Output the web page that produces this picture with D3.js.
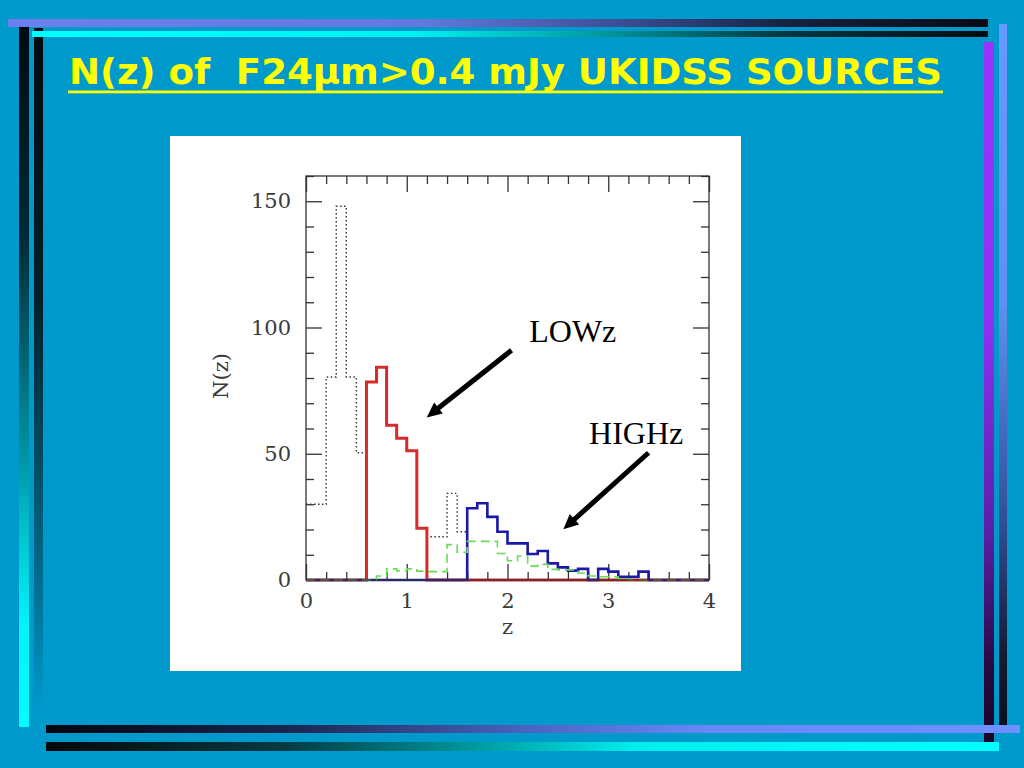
<!DOCTYPE html>
<html>
<head>
<meta charset="utf-8">
<script src="https://cdn.jsdelivr.net/npm/d3@7"></script>
<style>
  html, body { margin: 0; padding: 0; background: #0099cc; }
  svg { display: block; }
</style>
</head>
<body>
<svg id="chart" width="1024" height="768"></svg>
<script>
// ---------------- data ----------------
const titleText = "N(z) of  F24\u03bcm>0.4 mJy UKIDSS SOURCES";
const binWidth = 0.1;
const zMax = 4.0;
// all sources (black dotted)
const allSources = [30, 30, 80.4, 148, 80.4, 50.4, 78.4, 84.3, 61.3, 56.1, 51.2, 20.5, 17.1, 17.1, 34.3, 19.1,
  28.4, 30.4, 25.0, 19.1, 14.5, 14.5, 10.3, 11.5, 6.6, 5.0, 3.7, 4.4, 0, 4.4, 3.3, 1.3, 1.3, 3.3, 0, 0, 0, 0, 0, 0];
// LOWz (red)
const lowZ = [0, 0, 0, 0, 0, 0, 78.4, 84.3, 61.3, 56.1, 51.2, 20.5, 0, 0, 0, 0,
  0, 0, 0, 0, 0, 0, 0, 0, 0, 0, 0, 0, 0, 0, 0, 0, 0, 0, 0, 0, 0, 0, 0, 0];
// HIGHz (blue)
const highZ = [0, 0, 0, 0, 0, 0, 0, 0, 0, 0, 0, 0, 0, 0, 0, 0,
  28.4, 30.4, 25.0, 19.1, 14.5, 14.5, 10.3, 11.5, 6.6, 5.0, 3.7, 4.4, 0, 4.4, 3.3, 1.3, 1.3, 3.3, 0, 0, 0, 0, 0, 0];
// green dashed
const otherZ = [0, 0, 0, 0, 0, 0, 0, 1.6, 4.4, 3.6, 4.4, 3.5, 3.3, 3.3, 14.0, 11.0,
  15.3, 15.3, 15.3, 10.5, 7.6, 9.5, 5.5, 6.2, 4.2, 4.0, 4.0, 2.8, 1.6, 1.3, 1.3, 0.5, 0, 0, 0, 0, 0, 0, 0, 0];

const xMajorTicks = [0, 1, 2, 3, 4];
const yMajorTicks = [0, 50, 100, 150];
const yDomainMax = 160;

const annotLabels = ["LOWz", "HIGHz"];
const annotLabelZ = [2.216, 2.81];
const annotLabelN = [94.3, 53.8];
const arrowFromZ = [2.04, 3.40];
const arrowFromN = [91.0, 50.4];
const arrowToZ = [1.198, 2.554];
const arrowToN = [64.4, 20.1];

// ---------------- drawing ----------------
const svg = d3.select("#chart");
const defs = svg.append("defs");

function hGrad(id, stops, vertical) {
  const g = defs.append("linearGradient").attr("id", id)
    .attr("x1", 0).attr("y1", 0)
    .attr("x2", vertical ? 0 : 1).attr("y2", vertical ? 1 : 0);
  stops.forEach(s => g.append("stop").attr("offset", s[0]).attr("stop-color", s[1]));
}
hGrad("gTop1", [[0, "#6b80ec"], [0.42, "#6478de"], [0.62, "#3c4f98"], [0.8, "#16203e"], [1, "#050a14"]]);
hGrad("gTop2", [[0, "#00ffff"], [0.4, "#00f2f2"], [0.58, "#00a0a4"], [0.78, "#013a44"], [1, "#000a10"]]);
hGrad("gLeft1", [[0, "#000a10"], [0.3, "#012a36"], [0.6, "#0090a0"], [0.85, "#00f4f8"], [1, "#00ffff"]], true);
hGrad("gLeft2", [[0, "#000a0e"], [0.4, "#01202a"], [0.8, "#006a8a"], [1, "#0099cc"]], true);
hGrad("gRight1", [[0, "#9933ff"], [0.4, "#9030f4"], [0.7, "#5a1fa8"], [0.9, "#26093e"], [1, "#18062a"]], true);
hGrad("gRight2", [[0, "#6699ff"], [0.4, "#6090f0"], [0.7, "#33509a"], [0.9, "#121c34"], [1, "#0a1020"]], true);
hGrad("gBot1", [[0, "#000510"], [0.25, "#1a2650"], [0.5, "#4a66c4"], [0.68, "#6888f6"], [1, "#6f90ff"]]);
hGrad("gBot2", [[0, "#000808"], [0.25, "#023a44"], [0.48, "#00a8ac"], [0.62, "#00eef0"], [1, "#00ffff"]]);

const deco = svg.append("g");
deco.append("rect").attr("x", 34).attr("y", 28).attr("width", 9).attr("height", 680).attr("fill", "url(#gLeft2)");
deco.append("rect").attr("x", 19).attr("y", 27).attr("width", 10).attr("height", 700).attr("fill", "url(#gLeft1)");
deco.append("rect").attr("x", 8).attr("y", 19).attr("width", 980).attr("height", 8).attr("fill", "url(#gTop1)");
deco.append("rect").attr("x", 32).attr("y", 31).attr("width", 956).attr("height", 6).attr("fill", "url(#gTop2)");
deco.append("rect").attr("x", 984).attr("y", 42).attr("width", 10).attr("height", 700).attr("fill", "url(#gRight1)");
deco.append("rect").attr("x", 999).attr("y", 24).attr("width", 8).attr("height", 701).attr("fill", "url(#gRight2)");
deco.append("rect").attr("x", 46).attr("y", 725).attr("width", 974).attr("height", 8).attr("fill", "url(#gBot1)");
deco.append("rect").attr("x", 46).attr("y", 742).attr("width", 953).attr("height", 9).attr("fill", "url(#gBot2)");

// title
svg.append("text")
  .attr("x", 69).attr("y", 84)
  .attr("textLength", 873).attr("lengthAdjust", "spacingAndGlyphs")
  .style("white-space", "pre")
  .attr("font-family", "'Comic Sans MS', 'DejaVu Sans', sans-serif")
  .attr("font-weight", "bold").attr("font-size", 36)
  .attr("fill", "#ffff00")
  .text(titleText);
svg.append("rect").attr("x", 68).attr("y", 90.5).attr("width", 875).attr("height", 2.8).attr("fill", "#ffff00");

// white panel
svg.append("rect").attr("x", 170).attr("y", 136).attr("width", 571).attr("height", 535).attr("fill", "#ffffff");

// scales
const plot = { left: 306, right: 709, top: 176, bottom: 580 };
const x = d3.scaleLinear().domain([0, zMax]).range([plot.left, plot.right]);
const y = d3.scaleLinear().domain([0, yDomainMax]).range([plot.bottom, plot.top]);

const xMinor = d3.range(0, zMax + 1e-9, 0.2).filter(v => Math.abs(v - Math.round(v)) > 1e-6);
const yMinor = d3.range(0, yDomainMax + 1e-9, 10).filter(v => v % 50 !== 0);

const axisColor = "#333333";
const labelFont = "'DejaVu Serif', serif";

function styleAxis(g) {
  g.select(".domain").remove();
  g.selectAll("line").attr("stroke", axisColor).attr("stroke-width", 1.3);
  g.selectAll("text").attr("fill", "#3a3a3a").attr("font-family", labelFont).attr("font-size", 21);
}

// bottom
svg.append("g").attr("transform", `translate(0,${plot.bottom})`)
  .call(d3.axisBottom(x).tickValues(xMajorTicks).tickSize(-16).tickPadding(13).tickFormat(d3.format("d")))
  .call(styleAxis);
svg.append("g").attr("transform", `translate(0,${plot.bottom})`)
  .call(d3.axisBottom(x).tickValues(xMinor).tickSize(-8).tickFormat(""))
  .call(styleAxis);
// top
svg.append("g").attr("transform", `translate(0,${plot.top})`)
  .call(d3.axisTop(x).tickValues(xMajorTicks).tickSize(-16).tickFormat(""))
  .call(styleAxis);
svg.append("g").attr("transform", `translate(0,${plot.top})`)
  .call(d3.axisTop(x).tickValues(xMinor).tickSize(-8).tickFormat(""))
  .call(styleAxis);
// left
svg.append("g").attr("transform", `translate(${plot.left},0)`)
  .call(d3.axisLeft(y).tickValues(yMajorTicks).tickSize(-16).tickPadding(15).tickFormat(d3.format("d")))
  .call(styleAxis);
svg.append("g").attr("transform", `translate(${plot.left},0)`)
  .call(d3.axisLeft(y).tickValues(yMinor).tickSize(-8).tickFormat(""))
  .call(styleAxis);
// right
svg.append("g").attr("transform", `translate(${plot.right},0)`)
  .call(d3.axisRight(y).tickValues(yMajorTicks).tickSize(-16).tickFormat(""))
  .call(styleAxis);
svg.append("g").attr("transform", `translate(${plot.right},0)`)
  .call(d3.axisRight(y).tickValues(yMinor).tickSize(-8).tickFormat(""))
  .call(styleAxis);

// histograms
function stepPoints(vals) {
  const pts = vals.map((v, i) => [i * binWidth, v]);
  pts.push([vals.length * binWidth, vals[vals.length - 1]]);
  return pts;
}
const line = d3.line().x(d => x(d[0])).y(d => y(d[1])).curve(d3.curveStepAfter);

const hist = svg.append("g").attr("fill", "none");
hist.append("path").attr("d", line(stepPoints(allSources)))
  .attr("stroke", "#333").attr("stroke-width", 1.4).attr("stroke-dasharray", "1.5,2.5");
hist.append("path").attr("d", line(stepPoints(lowZ)))
  .attr("stroke", "#d82a2a").attr("stroke-width", 3);
hist.append("path").attr("d", line(stepPoints(highZ)))
  .attr("stroke", "#1a1aa6").attr("stroke-width", 2.6);
hist.append("path").attr("d", line(stepPoints(otherZ)))
  .attr("stroke", "#66dd55").attr("stroke-width", 1.6).attr("stroke-dasharray", "9,5");

// frame
svg.append("rect").attr("x", plot.left).attr("y", plot.top)
  .attr("width", plot.right - plot.left).attr("height", plot.bottom - plot.top)
  .attr("fill", "none").attr("stroke", axisColor).attr("stroke-width", 1.3);

// axis titles
svg.append("text").attr("x", (plot.left + plot.right) / 2).attr("y", 634)
  .attr("text-anchor", "middle").attr("font-family", labelFont).attr("font-size", 21)
  .attr("fill", "#3a3a3a").text("z");
svg.append("text").attr("transform", "translate(221,376) rotate(-90)")
  .attr("text-anchor", "middle").attr("dominant-baseline", "central")
  .attr("font-family", labelFont).attr("font-size", 21)
  .attr("fill", "#3a3a3a").text("N(z)");

// annotations
const ann = svg.append("g");
annotLabels.forEach((lab, i) => {
  ann.append("text").attr("x", x(annotLabelZ[i])).attr("y", y(annotLabelN[i]))
    .attr("font-family", "'Liberation Serif', 'Times New Roman', serif").attr("font-size", 32)
    .attr("fill", "#000").text(lab);
  const x0 = x(arrowFromZ[i]), y0 = y(arrowFromN[i]);
  const x1 = x(arrowToZ[i]), y1 = y(arrowToN[i]);
  const dx = x1 - x0, dy = y1 - y0, len = Math.hypot(dx, dy);
  const ux = dx / len, uy = dy / len;
  const headLen = 15, headHalf = 7;
  const bx = x1 - ux * headLen, by = y1 - uy * headLen;
  ann.append("line").attr("x1", x0).attr("y1", y0).attr("x2", bx + ux * 2).attr("y2", by + uy * 2)
    .attr("stroke", "#000").attr("stroke-width", 5);
  ann.append("polygon")
    .attr("points", [[x1, y1], [bx - uy * headHalf, by + ux * headHalf], [bx + uy * headHalf, by - ux * headHalf]].map(p => p.join(",")).join(" "))
    .attr("fill", "#000");
});
</script>
</body>
</html>
